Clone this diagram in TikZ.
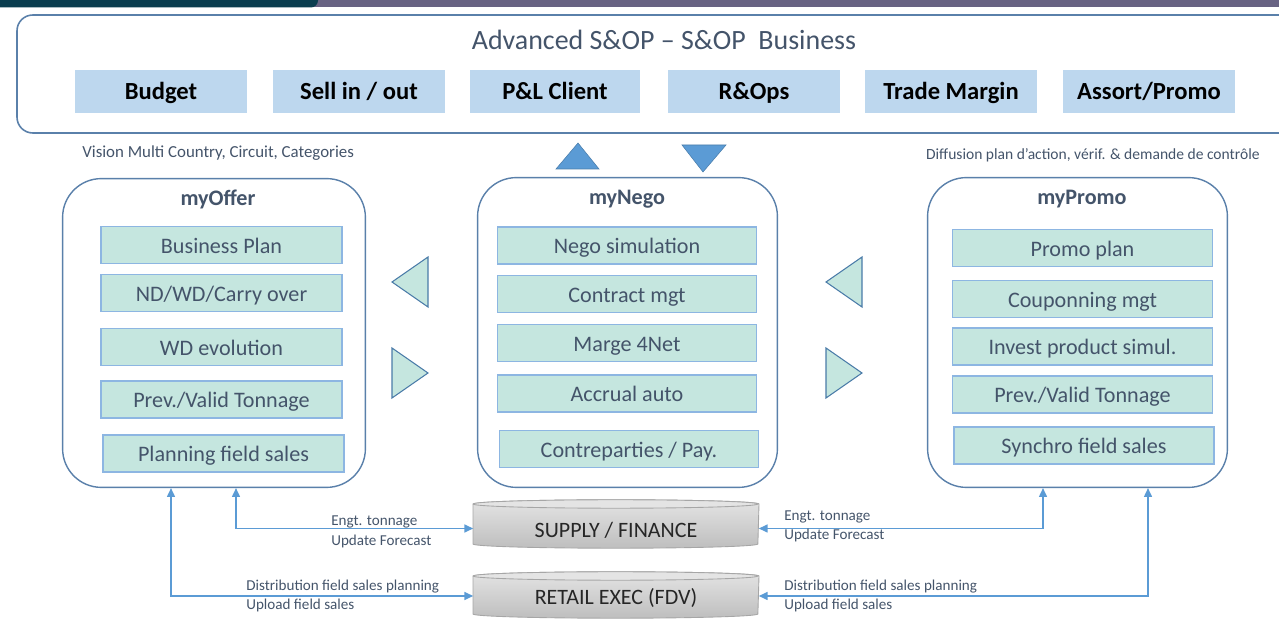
\documentclass[tikz,border=0pt]{standalone}
\usepackage{fontspec}
\setmainfont{Carlito}
\usetikzlibrary{arrows.meta,calc}
\definecolor{bandteal}{HTML}{0A3D4F}
\definecolor{bandpurple}{HTML}{686383}
\definecolor{frame}{HTML}{5A80AA}
\definecolor{txt}{HTML}{44546A}
\definecolor{topfill}{HTML}{BDD7EE}
\definecolor{mint}{HTML}{C5E6DF}
\definecolor{mintline}{HTML}{8DB6E2}
\definecolor{tri}{HTML}{4A7BA8}
\definecolor{blue}{HTML}{5B9BD5}
\definecolor{conn}{HTML}{5B9BD5}
\definecolor{cylline}{HTML}{A6A6A6}
\definecolor{cyltop}{HTML}{E4E4E4}
\definecolor{cylbot}{HTML}{BEBEBE}
\tikzset{
  wh/.style 2 args={minimum width=#1*0.5669pt, minimum height=#2*0.5669pt},
  topbox/.style={fill=topfill, inner sep=0pt, text height=13.1pt, text depth=3.5pt, font=\fontsize{14}{16}\selectfont\bfseries, text=black},
  item/.style={fill=mint, draw=mintline, line width=0.7pt, inner sep=0pt, text height=12.4pt, text depth=3pt, font=\fontsize{12.6}{15}\selectfont, text=txt},
  module/.style={draw=frame, line width=0.8pt, fill=white, rounded corners=22pt, inner sep=0pt},
  modtitle/.style={font=\fontsize{12.6}{15}\selectfont\bfseries, text=txt, inner sep=0pt, anchor=base},
  note/.style={font=\fontsize{8.6}{10}\selectfont, text=txt, inner sep=0pt},
  sidetri/.style={fill=mint, draw=tri, line width=0.6pt, line join=miter},
  bluetri/.style={fill=blue, draw=blue!80!black, line width=0.3pt},
  cyltext/.style={font=\fontsize{12.5}{15}\selectfont, text=black!85, inner sep=0pt, text height=13.2pt, text depth=3pt},
  connector/.style={draw=conn, line width=0.8pt, {Triangle[length=5pt,width=4.5pt]}-{Triangle[length=5pt,width=4.5pt]}},
}
\begin{document}
\begin{tikzpicture}[x=0.02cm,y=-0.02cm]
\useasboundingbox (0,0) rectangle (1279,644);
\clip (0,0) rectangle (1279,644);
% top band
\fill[bandpurple] (300,0) rectangle (1290,7.5);
\fill[bandteal, rounded corners=4pt] (-20,-20) rectangle (318,7.5);
% big frame
\draw[frame, line width=0.9pt, rounded corners=9pt] (17,15) rectangle (1300,133);
\node[font=\fontsize{15.9}{18}\selectfont, text=txt, inner sep=0pt, anchor=base] (title) at (664,49.5) {Advanced S\&OP – S\&OP\ \ Business};
\node[topbox, wh={172}{43}] (budget) at (161,91.5) {Budget};
\node[topbox, wh={172}{43}] (sell)   at (359,91.5) {Sell in / out};
\node[topbox, wh={170}{43}] (pl)     at (555,91.5) {P\&L Client};
\node[topbox, wh={172}{43}] (rops)   at (754,91.5) {R\&Ops};
\node[topbox, wh={172}{43}] (trade)  at (951,91.5) {Trade Margin};
\node[topbox, wh={172}{43}] (assort) at (1149,91.5) {Assort/Promo};
% side notes
\node[note, anchor=west, font=\fontsize{9.6}{11}\selectfont] (vision) at (82,153) {Vision Multi Country, Circuit, Categories};
\node[note, anchor=east, font=\fontsize{8.85}{10}\selectfont] (diffusion) at (1260,155.5) {Diffusion plan d’action, vérif. \& demande de contrôle};
% blue triangles
\draw[bluetri] (556,169) -- (599,169) -- (578,143) -- cycle;
\draw[bluetri] (682,145) -- (726,145) -- (703,172) -- cycle;
% modules
\node[module, wh={304}{310}] (offer) at (214,333) {};
\node[module, wh={301}{311}] (nego)  at (627.5,332.5) {};
\node[module, wh={301}{311}] (promo) at (1077.5,332.5) {};
\node[modtitle] (offert) at (218,205.5) {myOffer};
\node[modtitle] (negot)  at (627,204.5) {myNego};
\node[modtitle] (promot) at (1082,204.5) {myPromo};
% offer items
\node[item, wh={242}{37}] (o1) at (221.5,245) {Business Plan};
\node[item, wh={242}{37}] (o2) at (221.5,293) {ND/WD/Carry over};
\node[item, wh={242}{37}] (o3) at (221.5,347) {WD evolution};
\node[item, wh={242}{37}] (o4) at (221.5,399.5) {Prev./Valid Tonnage};
\node[item, wh={242}{37}] (o5) at (223.5,453.5) {Planning field sales};
% nego items
\node[item, wh={260}{37}] (n1) at (627,245.5) {Nego simulation};
\node[item, wh={260}{37}] (n2) at (627,294) {Contract mgt};
\node[item, wh={260}{37}] (n3) at (627,343) {Marge 4Net};
\node[item, wh={260}{37}] (n4) at (627,393.5) {Accrual auto};
\node[item, wh={260}{37}] (n5) at (629,449) {Contreparties / Pay.};
% promo items
\node[item, wh={261}{37}] (p1) at (1082.5,248) {Promo plan};
\node[item, wh={261}{37}] (p2) at (1082.5,299) {Couponning mgt};
\node[item, wh={261}{37}] (p3) at (1082.5,346.5) {Invest product simul.};
\node[item, wh={261}{37}] (p4) at (1082.5,394.5) {Prev./Valid Tonnage};
\node[item, wh={261}{37}] (p5) at (1084,445.5) {Synchro field sales};
% side triangles
\draw[sidetri] (392,282) -- (428,257) -- (428,307) -- cycle;
\draw[sidetri] (392,348) -- (428,373) -- (392,398) -- cycle;
\draw[sidetri] (826,282) -- (862,257) -- (862,307) -- cycle;
\draw[sidetri] (826,348) -- (862,373) -- (826,398) -- cycle;
% cylinders
\foreach \t/\b in {504/544, 576/614}{
  \shade[top color=cyltop, bottom color=cylbot, draw=cylline, line width=0.5pt]
    (473,\t) -- (473,\b) arc[start angle=180, end angle=360, x radius=81.07pt, y radius=2.4pt]
    -- (759,\t) arc[start angle=0, end angle=180, x radius=81.07pt, y radius=2.4pt] -- cycle;
  \draw[cylline, line width=0.5pt, fill=cyltop] (473,\t) arc[start angle=180, end angle=540, x radius=81.07pt, y radius=2.4pt];
}
\node[cyltext, wh={286}{40}] (supply) at (616,528.5) {SUPPLY / FINANCE};
\node[cyltext, wh={286}{40}] (retail) at (616,596) {RETAIL EXEC (FDV)};
% connectors
\coordinate (xa) at (236,0);
\coordinate (xb) at (171,0);
\coordinate (xc) at (1043,0);
\coordinate (xd) at (1148,0);
\draw[connector] (offer.south -| xa) |- (supply.west);
\draw[connector] (offer.south -| xb) |- (retail.west);
\draw[connector] (promo.south -| xc) |- (supply.east);
\draw[connector] (promo.south -| xd) |- (retail.east);
% connector labels
\node[note, anchor=west] (l1) at (331,522) {Engt. tonnage};
\node[note, anchor=west] (l2) at (331,541) {Update Forecast};
\node[note, anchor=west] (l3) at (246,587) {Distribution field sales planning};
\node[note, anchor=west] (l4) at (246,605) {Upload field sales};
\node[note, anchor=west] (r1) at (784,517) {Engt. tonnage};
\node[note, anchor=west] (r2) at (784,535) {Update Forecast};
\node[note, anchor=west] (r3) at (784,587) {Distribution field sales planning};
\node[note, anchor=west] (r4) at (784,605) {Upload field sales};
\end{tikzpicture}
\end{document}
